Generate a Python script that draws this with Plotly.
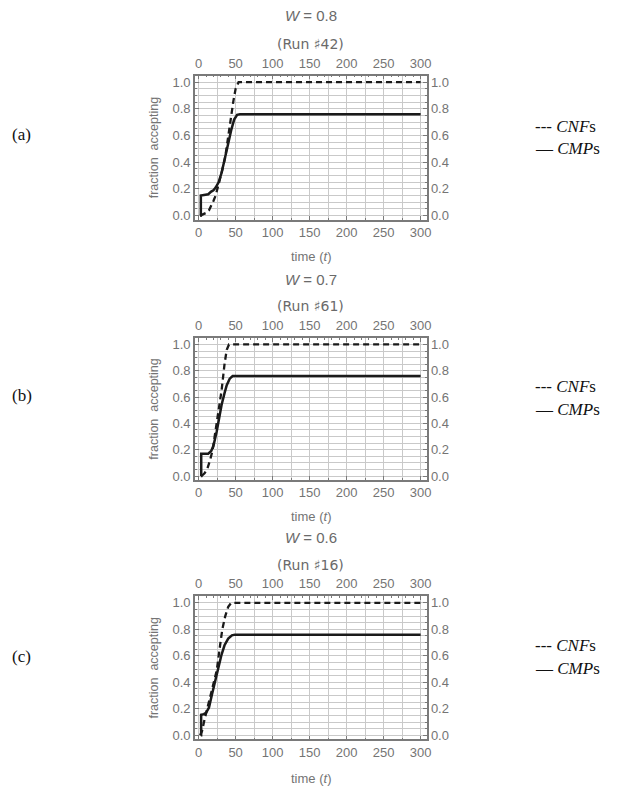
import plotly.graph_objects as go

W = 624
H = 794

# ---------------- data ----------------
panel_titles = ["<i>W</i> = 0.8", "<i>W</i> = 0.7", "<i>W</i> = 0.6"]
run_labels = ["(Run \u266f42)", "(Run \u266f61)", "(Run \u266f16)"]
row_labels = ["(a)", "(b)", "(c)"]

cmp_a_t = [2, 3, 3, 8, 13, 17, 20, 23, 27, 31, 36, 40, 44, 48, 52, 56, 300]
cmp_a = [0, 0, 0.15, 0.155, 0.16, 0.18, 0.19, 0.21, 0.25, 0.32, 0.43, 0.54, 0.64, 0.72, 0.755, 0.76, 0.76]
cnf_a_t = [2, 6, 10, 14, 17, 20, 23, 27, 31, 36, 40, 44, 47, 50, 54, 300]
cnf_a = [0, 0.01, 0.02, 0.04, 0.07, 0.11, 0.15, 0.23, 0.32, 0.44, 0.6, 0.75, 0.86, 0.95, 1.0, 1.0]

cmp_b_t = [3, 3.5, 3.5, 8, 13, 17, 20, 24.5, 28, 31, 35, 38, 42, 46, 300]
cmp_b = [0, 0, 0.17, 0.17, 0.17, 0.19, 0.23, 0.34, 0.45, 0.54, 0.63, 0.69, 0.74, 0.76, 0.76]
cnf_b_t = [4, 8, 12, 15.5, 19, 23, 27, 31, 35, 38, 41, 300]
cnf_b = [0, 0.02, 0.06, 0.12, 0.2, 0.34, 0.48, 0.65, 0.85, 0.96, 1.0, 1.0]

cmp_c_t = [3, 3.4, 3.4, 7, 10, 14, 18.5, 22.5, 27, 31, 35, 40, 45, 49, 300]
cmp_c = [0, 0, 0.155, 0.16, 0.17, 0.21, 0.32, 0.42, 0.53, 0.61, 0.68, 0.73, 0.755, 0.76, 0.76]
cnf_c_t = [2, 4.5, 8, 11, 15, 20, 24.5, 29, 32, 36, 40, 44, 300]
cnf_c = [0, 0.03, 0.12, 0.19, 0.27, 0.38, 0.49, 0.68, 0.8, 0.9, 0.97, 1.0, 1.0]

cmp_series = [(cmp_a_t, cmp_a), (cmp_b_t, cmp_b), (cmp_c_t, cmp_c)]
cnf_series = [(cnf_a_t, cnf_a), (cnf_b_t, cnf_b), (cnf_c_t, cnf_c)]

x_tickvals = [0, 50, 100, 150, 200, 250, 300]
y_tickvals = [0.0, 0.2, 0.4, 0.6, 0.8, 1.0]
y_ticktext = ["0.0", "0.2", "0.4", "0.6", "0.8", "1.0"]

# ---------------- layout geometry (pixels) ----------------
frame_left, frame_right = 196.5, 430
frames = [(75, 220), (339, 482), (599, 743)]
title_y = [15, 280, 540]
run_y = [43, 307, 568]
xtitle_y = [257, 519, 782]
row_label_y = [134, 397, 660]
leg_y = [(126, 148), (388, 411), (649, 672)]

def px_x(x):
    return x / W

def px_y(y):
    return (H - y) / H

XR = [-5, 308]
YR = [-0.03, 1.05]
FRAME_COL = "#7a7a7a"
GRID_COL = "#c9c9c9"
SANS = "Liberation Sans, Arial, sans-serif"
SERIF = "Liberation Serif, Times New Roman, serif"
TICK_FONT = dict(family=SANS, size=13, color="#747474")
LINE_COL = "#1a1a1a"

fig = go.Figure()
layout = dict(
    width=W, height=H, margin=dict(l=0, r=0, t=0, b=0),
    paper_bgcolor="white", plot_bgcolor="white", showlegend=False,
)
annotations = []

for p in range(3):
    xb, xt = 2 * p + 1, 2 * p + 2
    yl, yr = 2 * p + 1, 2 * p + 2
    def nm(a, n):
        return a if n == 1 else f"{a}{n}"
    top, bot = frames[p]
    xdom = [px_x(frame_left), px_x(frame_right)]
    ydom = [px_y(bot), px_y(top)]

    layout[f"xaxis{'' if xb == 1 else xb}"] = dict(
        domain=xdom, range=XR, anchor=nm("y", yl), side="bottom",
        tickvals=x_tickvals, ticks="inside", ticklen=4, tickcolor=FRAME_COL, tickwidth=1,
        showgrid=True, gridcolor=GRID_COL, gridwidth=1,
        minor=dict(dtick=25, tick0=0, showgrid=True, gridcolor=GRID_COL, gridwidth=1,
                   ticks="inside", ticklen=2, tickcolor=FRAME_COL),
        showline=True, linecolor=FRAME_COL, linewidth=1.5, mirror=False,
        zeroline=False, tickfont=TICK_FONT, fixedrange=True,
    )
    layout[f"xaxis{xt}"] = dict(
        domain=xdom, range=XR, anchor=nm("y", yr), side="top", overlaying=nm("x", xb),
        tickvals=x_tickvals, ticks="inside", ticklen=4, tickcolor=FRAME_COL, tickwidth=1,
        minor=dict(dtick=10, tick0=0, ticks="inside", ticklen=2, tickcolor=FRAME_COL, showgrid=False),
        showgrid=False, showline=True, linecolor=FRAME_COL, linewidth=1.5,
        zeroline=False, tickfont=TICK_FONT, ticklabelstandoff=1, fixedrange=True,
    )
    layout[f"yaxis{'' if yl == 1 else yl}"] = dict(
        domain=ydom, range=YR, anchor=nm("x", xb), side="left",
        tickvals=y_tickvals, ticktext=y_ticktext, ticks="inside", ticklen=4,
        tickcolor=FRAME_COL, tickwidth=1,
        showgrid=True, gridcolor=GRID_COL, gridwidth=1,
        minor=dict(dtick=0.05, tick0=0, showgrid=True, gridcolor=GRID_COL, gridwidth=1,
                   ticks="inside", ticklen=2, tickcolor=FRAME_COL),
        showline=True, linecolor=FRAME_COL, linewidth=1.5,
        zeroline=False, tickfont=TICK_FONT, fixedrange=True,
    )
    layout[f"yaxis{yr}"] = dict(
        domain=ydom, range=YR, anchor=nm("x", xt), side="right", overlaying=nm("y", yl),
        tickvals=y_tickvals, ticktext=y_ticktext, ticks="inside", ticklen=4,
        tickcolor=FRAME_COL, tickwidth=1,
        minor=dict(dtick=0.05, tick0=0, ticks="inside", ticklen=2, tickcolor=FRAME_COL, showgrid=False),
        showgrid=False, showline=True, linecolor=FRAME_COL, linewidth=1.5,
        zeroline=False, tickfont=TICK_FONT, fixedrange=True,
    )

    fig.add_trace(go.Scatter(x=[None], y=[None], xaxis=nm("x", xt), yaxis=nm("y", yr),
                             mode="lines", hoverinfo="skip"))
    ct, cv = cnf_series[p]
    fig.add_trace(go.Scatter(x=ct, y=cv, xaxis=nm("x", xb), yaxis=nm("y", yl), mode="lines",
                             line=dict(color=LINE_COL, width=2.3, dash="6px,4px"), name="CNFs"))
    mt, mv = cmp_series[p]
    fig.add_trace(go.Scatter(x=mt, y=mv, xaxis=nm("x", xb), yaxis=nm("y", yl), mode="lines",
                             line=dict(color=LINE_COL, width=2.5), name="CMPs"))

    cx = px_x((frame_left + frame_right) / 2)
    annotations.append(dict(text=panel_titles[p], x=cx, y=px_y(title_y[p]), xref="paper", yref="paper",
                            showarrow=False, xanchor="center", yanchor="middle",
                            font=dict(family=SANS, size=15, color="#6a6a6a")))
    annotations.append(dict(text=run_labels[p], x=cx, y=px_y(run_y[p]), xref="paper", yref="paper",
                            showarrow=False, xanchor="center", yanchor="middle",
                            font=dict(family="DejaVu Sans, Liberation Sans, sans-serif", size=14, color="#6a6a6a")))
    annotations.append(dict(text="time (<i>t</i>)", x=cx, y=px_y(xtitle_y[p]), xref="paper", yref="paper",
                            showarrow=False, xanchor="center", yanchor="middle",
                            font=dict(family=SANS, size=13, color="#747474")))
    annotations.append(dict(text="fraction  accepting", x=px_x(155), y=px_y((top + bot) / 2),
                            xref="paper", yref="paper", showarrow=False, textangle=-90,
                            xanchor="center", yanchor="middle",
                            font=dict(family=SANS, size=12.5, color="#747474")))
    annotations.append(dict(text=row_labels[p], x=px_x(10), y=px_y(row_label_y[p]), xref="paper", yref="paper",
                            showarrow=False, xanchor="left", yanchor="middle",
                            font=dict(family=SERIF, size=17, color="#111111")))
    annotations.append(dict(text="--- <i>CNF</i>s", x=px_x(537), y=px_y(leg_y[p][0]), xref="paper", yref="paper",
                            showarrow=False, xanchor="left", yanchor="middle",
                            font=dict(family=SERIF, size=17, color="#111111")))
    annotations.append(dict(text="\u2014 <i>CMP</i>s", x=px_x(537), y=px_y(leg_y[p][1]), xref="paper", yref="paper",
                            showarrow=False, xanchor="left", yanchor="middle",
                            font=dict(family=SERIF, size=17, color="#111111")))

layout["annotations"] = annotations
fig.update_layout(**layout)
fig.write_html("out.html", config={"displayModeBar": False},
               post_script="document.body.style.margin='0';document.body.style.padding='0';")
